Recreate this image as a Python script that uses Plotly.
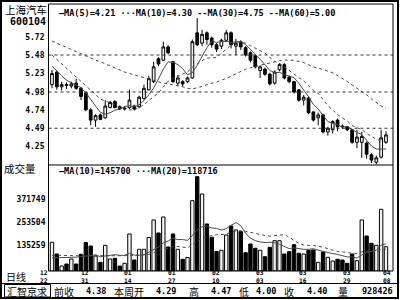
import plotly.graph_objects as go
import pandas as pd

# ---------------- data ----------------
opens = [5.08, 5.25, 5.05, 5.08, 5.06, 5.10, 5.03, 4.97, 4.74, 4.60,
         4.67, 4.63, 4.77, 4.85, 4.78, 4.75, 4.77, 4.79, 4.78, 4.89,
         5.01, 5.12, 5.43, 5.41, 5.59, 5.39, 5.10, 5.12, 5.12, 5.17,
         5.78, 5.64, 5.78, 5.71, 5.62, 5.60, 5.68, 5.78, 5.60, 5.66,
         5.58, 5.51, 5.47, 5.27, 5.29, 5.22, 5.10, 5.28, 5.35, 5.18,
         5.12, 5.01, 4.87, 4.90, 4.71, 4.63, 4.67, 4.44, 4.47, 4.60,
         4.52, 4.51, 4.47, 4.30, 4.30, 4.29, 4.13, 4.03, 4.10, 4.30]
highs = [5.28, 5.27, 5.12, 5.11, 5.12, 5.16, 5.05, 4.98, 4.76, 4.68,
         4.69, 4.87, 4.86, 4.87, 4.80, 4.79, 5.01, 4.81, 4.93, 5.08,
         5.20, 5.39, 5.45, 5.66, 5.61, 5.40, 5.21, 5.14, 5.19, 5.69,
         5.98, 5.82, 5.80, 5.73, 5.64, 5.70, 5.82, 5.80, 5.70, 5.68,
         5.60, 5.53, 5.49, 5.34, 5.31, 5.24, 5.27, 5.37, 5.37, 5.20,
         5.13, 5.02, 4.94, 4.92, 4.72, 4.70, 4.69, 4.51, 4.60, 4.62,
         4.54, 4.52, 4.48, 4.47, 4.44, 4.31, 4.15, 4.12, 4.47, 4.45]
lows = [5.03, 5.01, 5.00, 5.02, 5.03, 5.01, 4.87, 4.72, 4.53, 4.51,
        4.60, 4.62, 4.76, 4.76, 4.74, 4.73, 4.75, 4.73, 4.76, 4.88,
        5.00, 5.10, 5.33, 5.40, 5.49, 5.10, 5.06, 5.06, 5.10, 5.16,
        5.60, 5.60, 5.62, 5.58, 5.52, 5.56, 5.66, 5.57, 5.48, 5.55,
        5.46, 5.38, 5.30, 5.17, 5.20, 5.07, 5.08, 5.26, 5.15, 5.10,
        4.96, 4.85, 4.80, 4.68, 4.58, 4.53, 4.42, 4.39, 4.42, 4.45,
        4.48, 4.45, 4.28, 4.22, 4.09, 4.08, 4.02, 4.00, 4.08, 4.28]
closes = [5.23, 5.05, 5.08, 5.07, 5.09, 5.03, 4.92, 4.74, 4.60, 4.66,
          4.61, 4.79, 4.84, 4.77, 4.75, 4.76, 4.87, 4.75, 4.91, 5.03,
          5.16, 5.32, 5.36, 5.59, 5.51, 5.12, 5.17, 5.09, 5.17, 5.66,
          5.62, 5.76, 5.69, 5.62, 5.56, 5.68, 5.78, 5.62, 5.64, 5.59,
          5.48, 5.41, 5.32, 5.32, 5.22, 5.09, 5.25, 5.35, 5.17, 5.12,
          4.98, 4.87, 4.91, 4.70, 4.60, 4.67, 4.44, 4.49, 4.58, 4.51,
          4.51, 4.47, 4.30, 4.37, 4.38, 4.14, 4.06, 4.09, 4.36, 4.40]
volumes = [149000, 88400, 26000, 36400, 62400, 36400, 86800, 148000, 130000, 78000,
           45200, 133600, 62400, 66000, 26000, 40000, 192400, 57200, 112800, 112800,
           174000, 265200, 197600, 280800, 124800, 192400, 112800, 60800, 70200, 365600,
           490400, 400400, 244400, 175200, 101400, 107600, 187200, 234000, 213200, 204400,
           95200, 140400, 118000, 107600, 74400, 123200, 157600, 157600, 88400, 100400,
           136800, 92000, 88400, 107600, 109200, 45200, 98800, 71200, 52000, 60800,
           57200, 40000, 88400, 53600, 265200, 182000, 144000, 133600, 320800, 126400]

# moving-average values visible before enough bars exist
ma5_head = [5.33, 5.26, 5.20, 5.14]
ma10_head = [5.48, 5.42, 5.36, 5.30, 5.24, 5.18, 5.12, 5.06, 5.00]
ma30_head = [5.67, 5.64, 5.62, 5.59, 5.56, 5.53, 5.49, 5.47, 5.44, 5.41,
             5.39, 5.36, 5.33, 5.31, 5.28, 5.25, 5.23, 5.21, 5.19, 5.17,
             5.15, 5.13, 5.12, 5.10, 5.09, 5.08, 5.06, 5.05, 5.03]
vma10_head = [68000, 68000, 69000, 70000, 71000, 72000, 74000, 77000, 80000]
vma20_head = [82000, 81000, 81000, 80000, 80000, 79000, 79000, 79000, 80000, 80000,
              80000, 79000, 79000, 78000, 78000, 79000, 80000, 82000, 83000]

price_ticks = [5.72, 5.48, 5.23, 4.98, 4.74, 4.49, 4.25]
price_grid = [5.48, 4.98, 4.49]
vol_ticks = [371749, 253504, 135259]
date_months = ["12", "12", "01", "01", "02", "03", "03", "03", "04"]
date_days = ["22", "31", "14", "27", "10", "03", "16", "29", "08"]
date_pos = [-1.65, 6.9, 15.7, 24.8, 33.9, 43.0, 51.9, 61.0, 69.3]

title_name = "上海汽车"
title_code = "600104"
price_legend = "—MA(5)=4.21 ···MA(10)=4.30 --MA(30)=4.75 --MA(60)=5.00"
vol_title = "成交量"
vol_legend = "—MA(10)=145700 ···MA(20)=118716"
period_label = "日线"
info_box = "汇智京求"
info_labels = ["前收", "本周开", "高", "低", "收", "量"]
info_values = ["4.38", "4.29", "4.47", "4.00", "4.40", "928426"]

# ---------------- layout constants ----------------
W, H = 400, 300
def px(x):
    return x / W
def py(y):
    return 1 - y / H

X0, X1 = 48.5, 393
P_TOP, P_BOT = 4, 165
V_TOP, V_BOT = 165, 271
XR = [-0.72, 70.45]
PR = [3.993, 6.170]
VR = [0, 551000]

MONO = "DejaVu Sans Mono"
CJK = "Noto Sans CJK SC"

idx = list(range(len(closes)))


def moving(values, n, head):
    m = pd.Series(values, dtype=float).rolling(n).mean().tolist()
    return list(head) + m[len(head):]


ma5 = moving(closes, 5, ma5_head)
ma10 = moving(closes, 10, ma10_head)
ma30 = moving(closes, 30, ma30_head)
vma10 = moving(volumes, 10, vma10_head)
vma20 = moving(volumes, 20, vma20_head)

fig = go.Figure()

fig.add_trace(go.Candlestick(
    x=idx, open=opens, high=highs, low=lows, close=closes,
    increasing=dict(line=dict(color="black", width=1), fillcolor="#f4f4f4"),
    decreasing=dict(line=dict(color="black", width=1), fillcolor="black"),
    whiskerwidth=0, xaxis="x", yaxis="y", hoverinfo="skip"))

line_col = "#4a4a4a"
fig.add_trace(go.Scatter(x=idx, y=ma5, mode="lines", xaxis="x", yaxis="y",
                         line=dict(color=line_col, width=1)))
fig.add_trace(go.Scatter(x=idx, y=ma10, mode="lines", xaxis="x", yaxis="y",
                         line=dict(color=line_col, width=1, dash="dot")))
fig.add_trace(go.Scatter(x=idx, y=ma30, mode="lines", xaxis="x", yaxis="y",
                         line=dict(color=line_col, width=1, dash="3px,3px")))

bar_colors = ["#f4f4f4" if c > o else "black" for o, c in zip(opens, closes)]
fig.add_trace(go.Bar(x=idx, y=volumes, width=0.7, xaxis="x2", yaxis="y2",
                     marker=dict(color=bar_colors, line=dict(color="black", width=1)),
                     hoverinfo="skip"))
fig.add_trace(go.Scatter(x=idx, y=vma10, mode="lines", xaxis="x2", yaxis="y2",
                         line=dict(color=line_col, width=1)))
fig.add_trace(go.Scatter(x=idx, y=vma20, mode="lines", xaxis="x2", yaxis="y2",
                         line=dict(color=line_col, width=1, dash="dot")))

tick_font = dict(family=MONO, size=8, color="black", weight="bold")
axis_common = dict(showgrid=False, zeroline=False, showline=False, fixedrange=True)

fig.update_layout(
    width=W, height=H, margin=dict(l=0, r=0, t=0, b=0),
    paper_bgcolor="white", plot_bgcolor="white",
    showlegend=False, boxgap=0.2, bargap=0.25, hovermode=False,
    xaxis=dict(domain=[px(X0), px(X1)], range=XR, anchor="y", showticklabels=False,
               rangeslider=dict(visible=False), **axis_common),
    yaxis=dict(domain=[py(P_BOT), py(P_TOP)], range=PR, anchor="x",
               tickvals=price_ticks, ticktext=[f"{v:.2f}" for v in price_ticks],
               ticks="", tickfont=tick_font, ticklabelstandoff=3, **axis_common),
    xaxis2=dict(domain=[px(X0), px(X1)], range=XR, anchor="y2", showticklabels=False,
                **axis_common),
    yaxis2=dict(domain=[py(V_BOT), py(V_TOP)], range=VR, anchor="x2",
                tickvals=vol_ticks, ticktext=[str(v) for v in vol_ticks],
                ticks="", tickfont=tick_font, ticklabelstandoff=2, **axis_common),
)

shapes = []
for g in price_grid:
    shapes.append(dict(type="line", xref="paper", yref="y", x0=px(X0), x1=px(X1),
                       y0=g, y1=g, line=dict(color="#333", width=1, dash="dot")))
# frames
shapes.append(dict(type="rect", xref="paper", yref="paper", x0=px(1), x1=px(398),
                   y0=py(298), y1=py(1), line=dict(color="black", width=2)))
shapes.append(dict(type="rect", xref="paper", yref="paper", x0=px(X0), x1=px(X1),
                   y0=py(V_BOT), y1=py(P_TOP), line=dict(color="black", width=1)))
shapes.append(dict(type="line", xref="paper", yref="paper", x0=px(X0), x1=px(X1),
                   y0=py(P_BOT), y1=py(P_BOT), line=dict(color="black", width=1)))
shapes.append(dict(type="line", xref="paper", yref="paper", x0=px(1), x1=px(398),
                   y0=py(283.5), y1=py(283.5), line=dict(color="black", width=1)))
shapes.append(dict(type="rect", xref="paper", yref="paper", x0=px(4.5), x1=px(50.5),
                   y0=py(297), y1=py(284.5), line=dict(color="black", width=1)))
fig.update_layout(shapes=shapes)

ann = []
def text(s, x, y, font, xanchor="left"):
    ann.append(dict(text=s, x=px(x), y=py(y), xref="paper", yref="paper",
                    xanchor=xanchor, yanchor="middle", showarrow=False,
                    font=font, borderpad=0))

cjk_font = dict(family=CJK, size=10.5, color="black")
info_font = dict(family=CJK, size=10, color="black")
mono_b = dict(family=MONO, size=8.5, color="black", weight="bold")

text(title_name, 4, 9, cjk_font)
text(title_code, 9, 21.5, dict(family=MONO, size=10, color="black", weight="bold"))
text(price_legend, 58, 13, mono_b)
text(vol_title, 3, 168, cjk_font)
text(vol_legend, 58, 171, mono_b)
text(period_label, 5, 276.3, dict(family=CJK, size=10, color="black"))

small = dict(family=MONO, size=6.3, color="black", weight="bold")
for m, d, p in zip(date_months, date_days, date_pos):
    xp = X0 + (p - XR[0]) / (XR[1] - XR[0]) * (X1 - X0)
    text(m, xp, 272.6, small, "center")
    text(d, xp, 280.0, small, "center")

text(info_box, 5.5, 291, info_font)
label_x = [53, 113, 188, 238, 283, 337]
value_x = [107, 177, 232, 277, 328, 394]
for lab, val, lx, vx in zip(info_labels, info_values, label_x, value_x):
    text(lab, lx, 291, info_font)
    text(val, vx, 291, mono_b, "right")

fig.update_layout(annotations=ann)

fig.write_html("out.html")
